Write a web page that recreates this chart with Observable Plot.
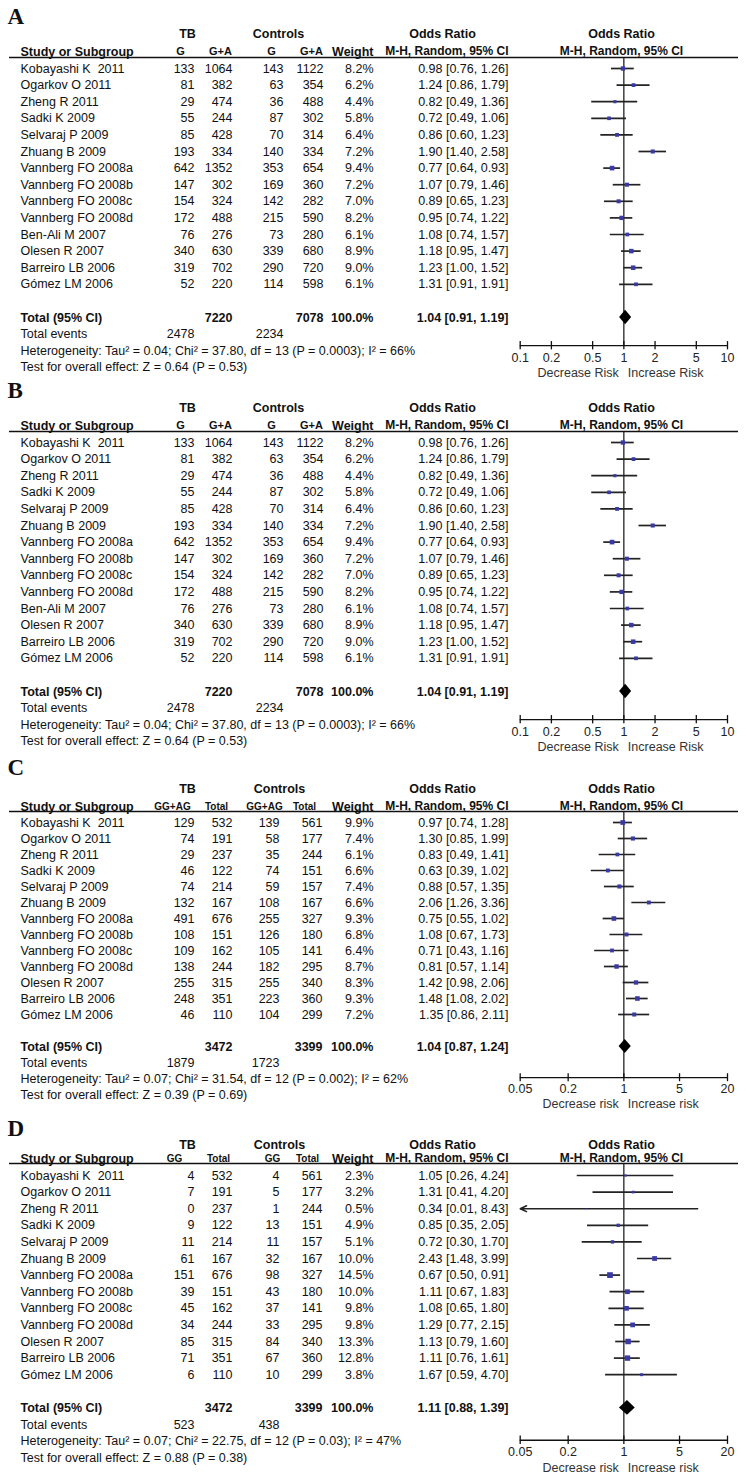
<!DOCTYPE html>
<html><head><meta charset="utf-8">
<script src="https://cdn.jsdelivr.net/npm/d3@7"></script>
<script src="https://cdn.jsdelivr.net/npm/@observablehq/plot@0.6"></script>
<style>
body{margin:0;background:#fff;}
#chart{position:relative;width:746px;height:1476px;overflow:hidden;background:#fff;}
#chart svg{position:absolute;left:0;}
</style></head><body><div id="chart"></div>
<script>
// ---------- data: panels A and B (identical) ----------
const studiesAB = ["Kobayashi K\u00a0 2011","Ogarkov O 2011","Zheng R 2011","Sadki K 2009","Selvaraj P 2009","Zhuang B 2009","Vannberg FO 2008a","Vannberg FO 2008b","Vannberg FO 2008c","Vannberg FO 2008d","Ben-Ali M 2007","Olesen R 2007","Barreiro LB 2006","Gómez LM 2006"];
const tbEventsAB = [133,81,29,55,85,193,642,147,154,172,76,340,319,52];
const tbTotalAB  = [1064,382,474,244,428,334,1352,302,324,488,276,630,702,220];
const ctEventsAB = [143,63,36,87,70,140,353,169,142,215,73,339,290,114];
const ctTotalAB  = [1122,354,488,302,314,334,654,360,282,590,280,680,720,598];
const weightAB   = [8.2,6.2,4.4,5.8,6.4,7.2,9.4,7.2,7.0,8.2,6.1,8.9,9.0,6.1];
const orAB = [0.98,1.24,0.82,0.72,0.86,1.90,0.77,1.07,0.89,0.95,1.08,1.18,1.23,1.31];
const loAB = [0.76,0.86,0.49,0.49,0.60,1.40,0.64,0.79,0.65,0.74,0.74,0.95,1.00,0.91];
const hiAB = [1.26,1.79,1.36,1.06,1.23,2.58,0.93,1.46,1.23,1.22,1.57,1.47,1.52,1.91];
const subHeadAB = ["G","G+A","G","G+A"];
const totalsAB = [7220,7078];
const eventsAB = [2478,2234];
const pooledAB = [1.04,0.91,1.19];
const hetAB  = "Heterogeneity: Tau² = 0.04; Chi² = 37.80, df = 13 (P = 0.0003); I² = 66%";
const testAB = "Test for overall effect: Z = 0.64 (P = 0.53)";
const ticksAB = [0.1,0.2,0.5,1,2,5,10];
const tickLabelsAB = ["0.1","0.2","0.5","1","2","5","10"];
const favoursAB = ["Decrease Risk","Increase Risk"];

// ---------- data: panels C and D ----------
const studiesCD = ["Kobayashi K\u00a0 2011","Ogarkov O 2011","Zheng R 2011","Sadki K 2009","Selvaraj P 2009","Zhuang B 2009","Vannberg FO 2008a","Vannberg FO 2008b","Vannberg FO 2008c","Vannberg FO 2008d","Olesen R 2007","Barreiro LB 2006","Gómez LM 2006"];
const tbTotalCD = [532,191,237,122,214,167,676,151,162,244,315,351,110];
const ctTotalCD = [561,177,244,151,157,167,327,180,141,295,340,360,299];

const tbEventsC = [129,74,29,46,74,132,491,108,109,138,255,248,46];
const ctEventsC = [139,58,35,74,59,108,255,126,105,182,255,223,104];
const weightC = [9.9,7.4,6.1,6.6,7.4,6.6,9.3,6.8,6.4,8.7,8.3,9.3,7.2];
const orC = [0.97,1.30,0.83,0.63,0.88,2.06,0.75,1.08,0.71,0.81,1.42,1.48,1.35];
const loC = [0.74,0.85,0.49,0.39,0.57,1.26,0.55,0.67,0.43,0.57,0.98,1.08,0.86];
const hiC = [1.28,1.99,1.41,1.02,1.35,3.36,1.02,1.73,1.16,1.14,2.06,2.02,2.11];
const subHeadC = ["GG+AG","Total","GG+AG","Total"];
const totalsC = [3472,3399];
const eventsC = [1879,1723];
const pooledC = [1.04,0.87,1.24];
const hetC  = "Heterogeneity: Tau² = 0.07; Chi² = 31.54, df = 12 (P = 0.002); I² = 62%";
const testC = "Test for overall effect: Z = 0.39 (P = 0.69)";

const tbEventsD = [4,7,0,9,11,61,151,39,45,34,85,71,6];
const ctEventsD = [4,5,1,13,11,32,98,43,37,33,84,67,10];
const weightD = [2.3,3.2,0.5,4.9,5.1,10.0,14.5,10.0,9.8,9.8,13.3,12.8,3.8];
const orD = [1.05,1.31,0.34,0.85,0.72,2.43,0.67,1.11,1.08,1.29,1.13,1.11,1.67];
const loD = [0.26,0.41,0.01,0.35,0.30,1.48,0.50,0.67,0.65,0.77,0.79,0.76,0.59];
const hiD = [4.24,4.20,8.43,2.05,1.70,3.99,0.91,1.83,1.80,2.15,1.60,1.61,4.70];
const subHeadD = ["GG","Total","GG","Total"];
const totalsD = [3472,3399];
const eventsD = [523,438];
const pooledD = [1.11,0.88,1.39];
const hetD  = "Heterogeneity: Tau² = 0.07; Chi² = 22.75, df = 12 (P = 0.03); I² = 47%";
const testD = "Test for overall effect: Z = 0.88 (P = 0.38)";

const ticksCD = [0.05,0.2,1,5,20];
const tickLabelsCD = ["0.05","0.2","1","5","20"];
const favoursCD = ["Decrease risk","Increase risk"];

// ---------- drawing ----------
const SANS = "'Liberation Sans', Arial, Helvetica, sans-serif";
const SERIF = "'Liberation Serif', 'Times New Roman', serif";
const INK = "#111";
const BOX = "#3a3aa6";
const FS = 12.5;

function drawPanel(cfg, d) {
  const n = d.studies.length;
  const rows = d.studies.map((name, i) => ({i, name, e1: d.tbE[i], n1: d.tbN[i], e2: d.ctE[i], n2: d.ctN[i],
    w: d.weight[i], or: d.or[i], lo: d.lo[i], hi: d.hi[i]}));
  const yTot = n + 1, yEv = n + 2, yHet = n + 3, yTest = n + 4;
  const yAxis = yHet - cfg.axisOffset;
  const [xmin, xmax] = d.domain;
  const f2 = v => v.toFixed(2);
  const ci = (o, l, h) => `${f2(o)} [${f2(l)}, ${f2(h)}]`;
  const c = cfg.cols;
  const one = [0];
  const T = (data, y, text, dx, anchor, o = {}) => Plot.text(data, {frameAnchor: "left", y, text, dx,
    textAnchor: anchor, fontFamily: SANS, fontSize: FS, fill: INK, ...o});
  const B = {fontWeight: "bold"};
  const [est, plo, phi] = d.pooled;
  const diamond = [{y: yTot - 0.44, x1: est, x2: est}, {y: yTot, x1: plo, x2: phi}, {y: yTot + 0.44, x1: est, x2: est}];
  const inRange = rows.filter(r => r.lo >= xmin);
  const clipped = rows.filter(r => r.lo < xmin);

  const marks = [
    T(one, () => cfg.letterY, () => cfg.letter, 7, "start", {fontFamily: SERIF, fontWeight: "bold", fontSize: 23}),
    T(one, () => cfg.headY1, () => "TB", c.tbHead, "middle", B),
    T(one, () => cfg.headY1, () => "Controls", c.ctHead, "middle", B),
    T(one, () => cfg.headY1, () => "Odds Ratio", c.orHead, "middle", B),
    T(one, () => cfg.headY1, () => "Odds Ratio", c.plotHead, "middle", B),
    T(one, () => cfg.headY2, () => "Study or Subgroup", c.name, "start", B),
    ...d.sub.map((s, k) => T(one, () => cfg.headY2, () => s, c.sub[k], "middle", {...B, fontSize: cfg.subFS})),
    T(one, () => cfg.headY2, () => "Weight", c.w, "end", B),
    T(one, () => cfg.headY2, () => "M-H, Random, 95% CI", c.or, "end", {...B, fontSize: 12}),
    T(one, () => cfg.headY2, () => "M-H, Random, 95% CI", c.plotHead, "middle", {...B, fontSize: 12}),
    Plot.ruleY([cfg.ruleY], {insetLeft: 9, insetRight: 8, stroke: INK, strokeWidth: 1.6}),
    // study rows
    T(rows, "i", "name", c.name, "start"),
    T(rows, "i", r => String(r.e1), c.c1, "end"),
    T(rows, "i", r => String(r.n1), c.c2, "end"),
    T(rows, "i", r => String(r.e2), c.c3, "end"),
    T(rows, "i", r => String(r.n2), c.c4, "end"),
    T(rows, "i", r => r.w.toFixed(1) + "%", c.w, "end"),
    T(rows, "i", r => ci(r.or, r.lo, r.hi), c.or, "end"),
    // totals
    T(one, () => yTot, () => "Total (95% CI)", c.name, "start", B),
    T(one, () => yTot, () => String(d.totals[0]), c.c2, "end", B),
    T(one, () => yTot, () => String(d.totals[1]), c.c4, "end", B),
    T(one, () => yTot, () => "100.0%", c.w, "end", B),
    T(one, () => yTot, () => ci(est, plo, phi), c.or, "end", B),
    T(one, () => yEv, () => "Total events", c.name, "start"),
    T(one, () => yEv, () => String(d.events[0]), c.c1, "end"),
    T(one, () => yEv, () => String(d.events[1]), c.c3, "end"),
    T(one, () => yHet, () => d.het, c.name, "start"),
    T(one, () => yTest, () => d.test, c.name, "start"),
    // forest plot
    Plot.ruleX([1], {y1: () => cfg.ruleY, y2: () => yAxis, stroke: INK, strokeWidth: 1.2}),
    Plot.ruleY(inRange, {y: "i", x1: "lo", x2: r => Math.min(r.hi, xmax), stroke: "#222", strokeWidth: 1.7}),
    Plot.arrow(clipped, {x1: r => Math.min(r.hi, xmax), x2: () => xmin, y1: "i", y2: "i", stroke: "#222",
      strokeWidth: 1.5, headLength: 7, headAngle: 50}),
    Plot.dot(rows, {x: "or", y: "i", r: "w", symbol: "square", fill: BOX}),
    Plot.areaX(diamond, {y: "y", x1: "x1", x2: "x2", fill: "#000", curve: "linear"}),
    // axis
    Plot.ruleY([yAxis], {x1: () => xmin, x2: () => xmax, stroke: INK, strokeWidth: 1.3}),
    Plot.ruleX(d.ticks, {y1: () => yAxis - 0.25, y2: () => yAxis + 0.25, stroke: INK, strokeWidth: 1.3}),
    Plot.text(d.ticks, {x: t => t, y: () => yAxis + 0.72, text: (t, k) => d.tickLabels[k], fontFamily: SANS, fontSize: FS, fill: "#222"}),
    Plot.text(one, {x: () => 1, y: () => yAxis + 1.65, text: () => d.favours[0], dx: -5, textAnchor: "end", fontFamily: SANS, fontSize: FS, fill: "#333"}),
    Plot.text(one, {x: () => 1, y: () => yAxis + 1.65, text: () => d.favours[1], dx: 4, textAnchor: "start", fontFamily: SANS, fontSize: FS, fill: "#333"})
  ];

  const svg = Plot.plot({
    width: 746, height: cfg.H, margin: 0,
    style: {background: "transparent", overflow: "visible", position: "absolute", top: cfg.T + "px", left: "0px"},
    x: {type: "log", domain: d.domain, range: [519.7, 727], axis: null},
    y: {type: "linear", domain: [0, yTest], range: [cfg.top0, cfg.top0 + yTest * cfg.s], axis: null},
    r: {type: "sqrt", domain: [0, 15], range: [0, 3.3]},
    marks
  });
  document.getElementById("chart").appendChild(svg);
}

const colsAB = {name: 20, c1: 194, c2: 232, c3: 283, c4: 323, w: 373, or: 508,
  tbHead: 187, ctHead: 278, orHead: 442, plotHead: 621, sub: [180, 220, 271, 311]};
const colsC = {name: 20, c1: 194, c2: 232, c3: 279, c4: 322, w: 373, or: 508,
  tbHead: 187, ctHead: 279, orHead: 442, plotHead: 621, sub: [172, 216, 264, 304]};
const colsD = {...colsC, sub: [174, 218, 272, 307]};

const dataAB = {studies: studiesAB, tbE: tbEventsAB, tbN: tbTotalAB, ctE: ctEventsAB, ctN: ctTotalAB, weight: weightAB,
  or: orAB, lo: loAB, hi: hiAB, sub: subHeadAB, totals: totalsAB, events: eventsAB, pooled: pooledAB,
  het: hetAB, test: testAB, domain: [0.1, 10], ticks: ticksAB, tickLabels: tickLabelsAB, favours: favoursAB};
const dataC = {studies: studiesCD, tbE: tbEventsC, tbN: tbTotalCD, ctE: ctEventsC, ctN: ctTotalCD, weight: weightC,
  or: orC, lo: loC, hi: hiC, sub: subHeadC, totals: totalsC, events: eventsC, pooled: pooledC,
  het: hetC, test: testC, domain: [0.05, 20], ticks: ticksCD, tickLabels: tickLabelsCD, favours: favoursCD};
const dataD = {studies: studiesCD, tbE: tbEventsD, tbN: tbTotalCD, ctE: ctEventsD, ctN: ctTotalCD, weight: weightD,
  or: orD, lo: loD, hi: hiD, sub: subHeadD, totals: totalsD, events: eventsD, pooled: pooledD,
  het: hetD, test: testD, domain: [0.05, 20], ticks: ticksCD, tickLabels: tickLabelsCD, favours: favoursCD};

drawPanel({letter: "A", T: 0, top0: 68, s: 16.6, H: 378, letterY: -3.1, headY1: -2.1, headY2: -1.02, ruleY: -0.66, axisOffset: 0.3, subFS: 11, cols: colsAB}, dataAB);
drawPanel({letter: "B", T: 374, top0: 68, s: 16.6, H: 378, letterY: -3.1, headY1: -2.1, headY2: -1.02, ruleY: -0.66, axisOffset: 0.3, subFS: 11, cols: colsAB}, dataAB);
drawPanel({letter: "C", T: 748, top0: 74, s: 16.0, H: 368, letterY: -3.4, headY1: -2.12, headY2: -1.0, ruleY: -0.69, axisOffset: 0.05, subFS: 10, cols: colsC}, dataC);
drawPanel({letter: "D", T: 1116, top0: 59, s: 16.6, H: 360, letterY: -2.85, headY1: -1.85, headY2: -1.02, ruleY: -0.72, axisOffset: 0.05, subFS: 10, cols: colsD}, dataD);
</script></body></html>
